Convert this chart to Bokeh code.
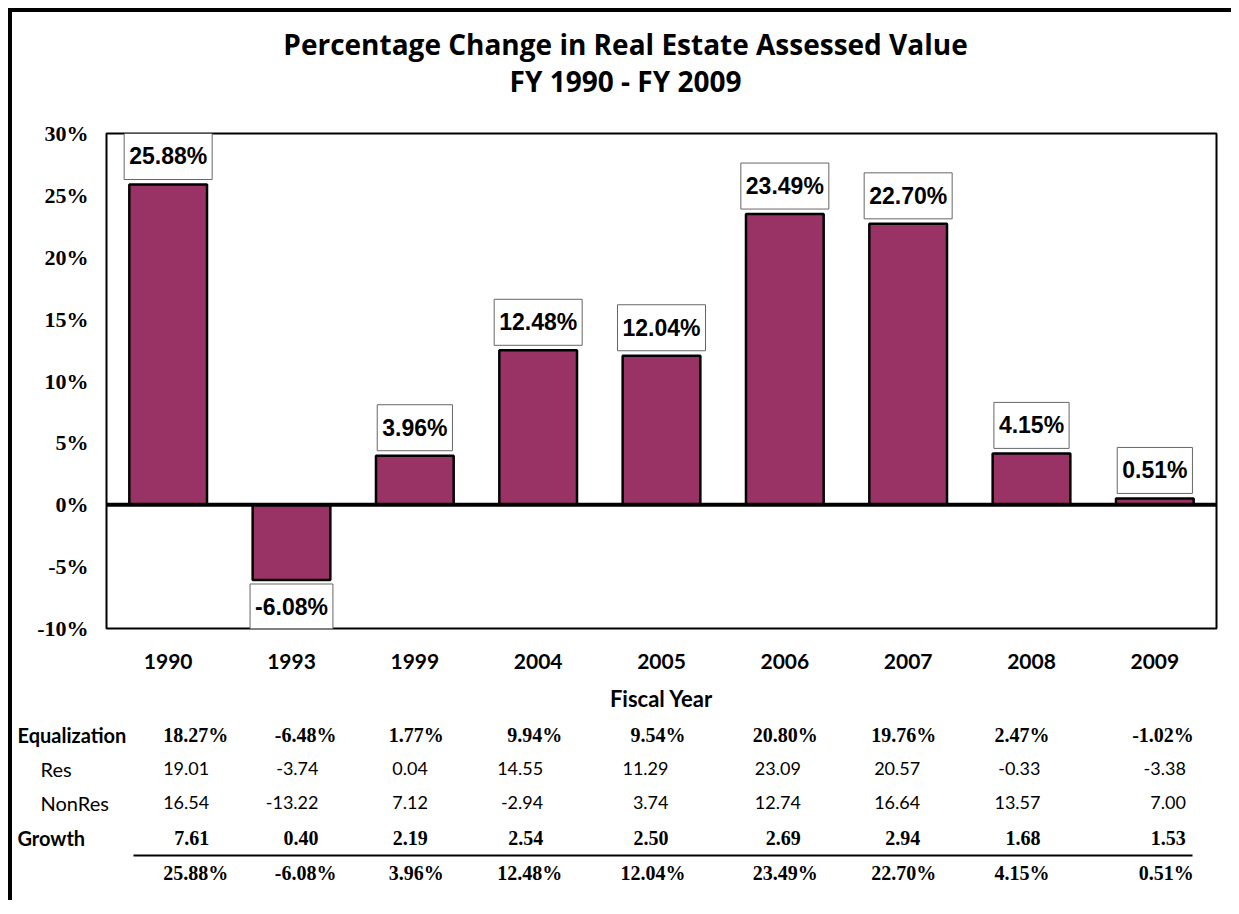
from bokeh.plotting import figure
from bokeh.layouts import column
from bokeh.models import Range1d, FixedTicker, Span, Label, ColumnDataSource
from bokeh.core.properties import value
from bokeh.embed import file_html
from bokeh.resources import INLINE

# ---------------- data ----------------
years = ["1990", "1993", "1999", "2004", "2005", "2006", "2007", "2008", "2009"]
total_change = [25.88, -6.08, 3.96, 12.48, 12.04, 23.49, 22.70, 4.15, 0.51]
equalization = [18.27, -6.48, 1.77, 9.94, 9.54, 20.80, 19.76, 2.47, -1.02]
res = [19.01, -3.74, 0.04, 14.55, 11.29, 23.09, 20.57, -0.33, -3.38]
nonres = [16.54, -13.22, 7.12, -2.94, 3.74, 12.74, 16.64, 13.57, 7.00]
growth = [7.61, 0.40, 2.19, 2.54, 2.50, 2.69, 2.94, 1.68, 1.53]
y_ticks = [-10, -5, 0, 5, 10, 15, 20, 25, 30]
row_names = ["Equalization", "Res", "NonRes", "Growth"]
title_lines = ["Percentage Change in Real Estate Assessed Value", "FY 1990 - FY 2009"]
x_label = "Fiscal Year"

# ---------------- layout constants ----------------
W = 1219
T_H, A_H, B_H = 101, 602, 185
A_L, A_R, A_T, A_B = 94, 15, 20, 87
n = len(years)
idx = list(range(n))
px_per = (W - A_L - A_R) / n          # pixels per category
FRAME_LEFT_PAGE = 106                   # page x of the plot frame's left edge
def px(page_x):                         # page pixel -> x data coordinate
    return -0.5 + (page_x - FRAME_LEFT_PAGE) / px_per

BAR = "#993366"
SANS = "Lato"
SERIF = "Liberation Serif"

# ---------------- title ----------------
T = figure(width=W, height=T_H, x_range=Range1d(-0.5, n - 0.5), y_range=Range1d(T_H, 0),
           min_border=0, x_axis_location=None, y_axis_location=None,
           outline_line_color=None, output_backend="svg", toolbar_location=None)
T.grid.visible = False
T.text(x=[px(625)] * 2, y=[31, 68], text=title_lines, text_align="center",
       text_baseline="alphabetic", text_font=value("Open Sans"), text_font_style="bold",
       text_font_size="28px", text_color="black")

# ---------------- chart ----------------
A = figure(width=W, height=A_H, x_range=Range1d(-0.5, n - 0.5), y_range=Range1d(-10, 30),
           min_border_left=A_L, min_border_right=A_R, min_border_top=A_T, min_border_bottom=A_B,
           output_backend="svg", toolbar_location=None)
A.grid.visible = False
A.outline_line_color = "black"
A.outline_line_width = 2
A.outline_line_alpha = 1

src = ColumnDataSource(dict(x=idx, top=total_change))
A.vbar(x="x", top="top", bottom=0, width=0.63, source=src,
       fill_color=BAR, line_color="black", line_width=2.5)
A.add_layout(Span(location=0, dimension="width", line_color="black", line_width=4))

xa = A.xaxis[0]
xa.ticker = FixedTicker(ticks=idx)
xa.major_label_overrides = {i: y for i, y in zip(idx, years)}
xa.axis_line_color = None
xa.major_tick_line_color = None
xa.minor_tick_line_color = None
xa.major_label_text_font = SANS
xa.major_label_text_font_style = "bold"
xa.major_label_text_font_size = "21px"
xa.major_label_text_color = "black"
xa.major_label_standoff = 19
xa.axis_label = x_label
xa.axis_label_text_font = SANS
xa.axis_label_text_font_style = "bold"
xa.axis_label_text_font_size = "22px"
xa.axis_label_text_color = "black"
xa.axis_label_standoff = 13

ya = A.yaxis[0]
ya.ticker = FixedTicker(ticks=y_ticks)
ya.major_label_overrides = {t: f"{t}%" for t in y_ticks}
ya.axis_line_color = None
ya.major_tick_line_color = None
ya.minor_tick_line_color = None
ya.major_label_text_font = SERIF
ya.major_label_text_font_style = "bold"
ya.major_label_text_font_size = "22px"
ya.major_label_text_color = "black"
ya.major_label_standoff = 12

for i, v in zip(idx, total_change):
    pos = v >= 0
    A.add_layout(Label(x=i, y=v, text=f"{v:.2f}%", text_font="Liberation Sans",
                       text_font_style="bold", text_font_size="23px", text_color="black",
                       text_align="center", text_baseline="bottom" if pos else "top",
                       y_offset=5 if pos else -4,
                       background_fill_color="white", border_line_color="#666666",
                       border_line_width=1,
                       padding=dict(left=5, right=5, top=10, bottom=10)))

# ---------------- table ----------------
b_start = -0.5 - A_L / px_per
b_end = n - 0.5 + A_R / px_per
B = figure(width=W, height=B_H, x_range=Range1d(b_start, b_end), y_range=Range1d(B_H, 0),
           min_border=0, x_axis_location=None, y_axis_location=None,
           outline_line_color=None, output_backend="svg", toolbar_location=None)
B.frame_align = False
B.grid.visible = False

row_y = [19, 53, 87, 122]
total_y = 157
rule_y = 140
label_page_x = [17, 40, 40, 17]
num_off = [41, 27, 13, 5, 7, 16, 12, 9, 31]
pct_off = [60, 45, 29, 24, 24, 33, 28, 18, 39]

bold_rows = [0, 3]
for r, name in enumerate(row_names):
    B.text(x=[px(label_page_x[r])], y=[row_y[r]], text=[name],
           text_align="left", text_baseline="middle", text_font=value(SANS),
           text_font_style="bold" if r in bold_rows else "normal",
           text_font_size="20px", text_color="black")

def table_row(vals, y, offs, fmt, font, style, size):
    B.text(x=idx, y=[y] * n, text=[fmt.format(v) for v in vals], x_offset=offs,
           text_align="right", text_baseline="middle", text_font=value(font),
           text_font_style=style, text_font_size=size, text_color="black")

table_row(equalization, row_y[0], pct_off, "{:.2f}%", SERIF, "bold", "20px")
table_row(res, row_y[1], num_off, "{:.2f}", SANS, "normal", "18px")
table_row(nonres, row_y[2], num_off, "{:.2f}", SANS, "normal", "18px")
table_row(growth, row_y[3], num_off, "{:.2f}", SERIF, "bold", "20px")
table_row(total_change, total_y, pct_off, "{:.2f}%", SERIF, "bold", "20px")

B.segment(x0=[px(133)], x1=[px(1192)], y0=[rule_y], y1=[rule_y],
          line_color="black", line_width=2)

layout = column(T, A, B, spacing=0,
                styles={"border-left": "4px solid black", "border-top": "4px solid black",
                        "margin-left": "8px", "margin-top": "8px"})

open("out.html", "w").write(file_html(layout, INLINE))
